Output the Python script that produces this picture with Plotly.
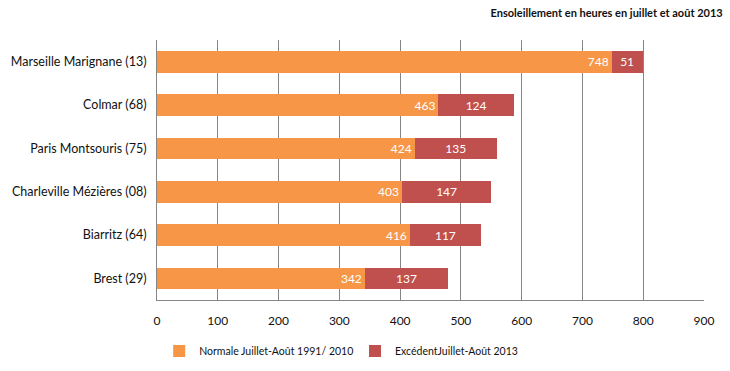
import plotly.graph_objects as go

categories = ["Marseille Marignane (13)", "Colmar (68)", "Paris Montsouris (75)",
              "Charleville Mézières (08)", "Biarritz (64)", "Brest (29)"]
normale = [748, 463, 424, 403, 416, 342]
excedent = [51, 124, 135, 147, 117, 137]
tick_vals = [0, 100, 200, 300, 400, 500, 600, 700, 800, 900]

font_family = "Lato, Open Sans, sans-serif"

fig = go.Figure()
fig.add_trace(go.Bar(
    y=categories, x=normale, orientation="h", name="Normale Juillet-Août 1991/ 2010",
    marker=dict(color="#F79646", line=dict(width=0)),
    text=normale, textposition="inside", insidetextanchor="end", textangle=0,
    textfont=dict(color="white", size=12, family=font_family),
    legend="legend", showlegend=True,
))
fig.add_trace(go.Bar(
    y=categories, x=excedent, orientation="h", name="ExcédentJuillet-Août 2013",
    marker=dict(color="#C0504D", line=dict(width=0)),
    text=excedent, textposition="inside", insidetextanchor="middle", textangle=0,
    textfont=dict(color="white", size=12, family=font_family),
    legend="legend2", showlegend=True,
))

legend_common = dict(orientation="h", xanchor="left", y=-0.14, yanchor="top",
                     font=dict(size=10.5), itemwidth=30, bgcolor="rgba(0,0,0,0)")

fig.update_layout(
    width=730, height=371,
    showlegend=True,
    barmode="stack", bargap=0.5,
    paper_bgcolor="white", plot_bgcolor="white",
    margin=dict(l=157, r=26, t=40, b=71, autoexpand=False),
    font=dict(family=font_family, size=12, color="#111111"),
    title=dict(text="<b>Ensoleillement en heures en juillet et août 2013</b>",
               x=0.99, xanchor="right", y=0.975, yanchor="top",
               font=dict(size=11, color="#111111")),
    xaxis=dict(range=[0, 900], tickvals=tick_vals, showgrid=True,
               gridcolor="#868686", gridwidth=1, showline=True, linecolor="#868686",
               zeroline=False, ticks="", tickfont=dict(size=12), ticklabelstandoff=10,
               automargin=False, fixedrange=True),
    yaxis=dict(categoryorder="array", categoryarray=categories[::-1],
               showline=True, linecolor="#868686", ticks="", ticklabelstandoff=7,
               automargin=False, tickfont=dict(size=12.5), fixedrange=True),
    legend=dict(x=0.004, **legend_common),
    legend2=dict(x=0.362, **legend_common),
    uniformtext=dict(minsize=8, mode="show"),
)

fig.write_html("out.html", config={"displayModeBar": False},
               post_script="document.body.style.margin='0';")
